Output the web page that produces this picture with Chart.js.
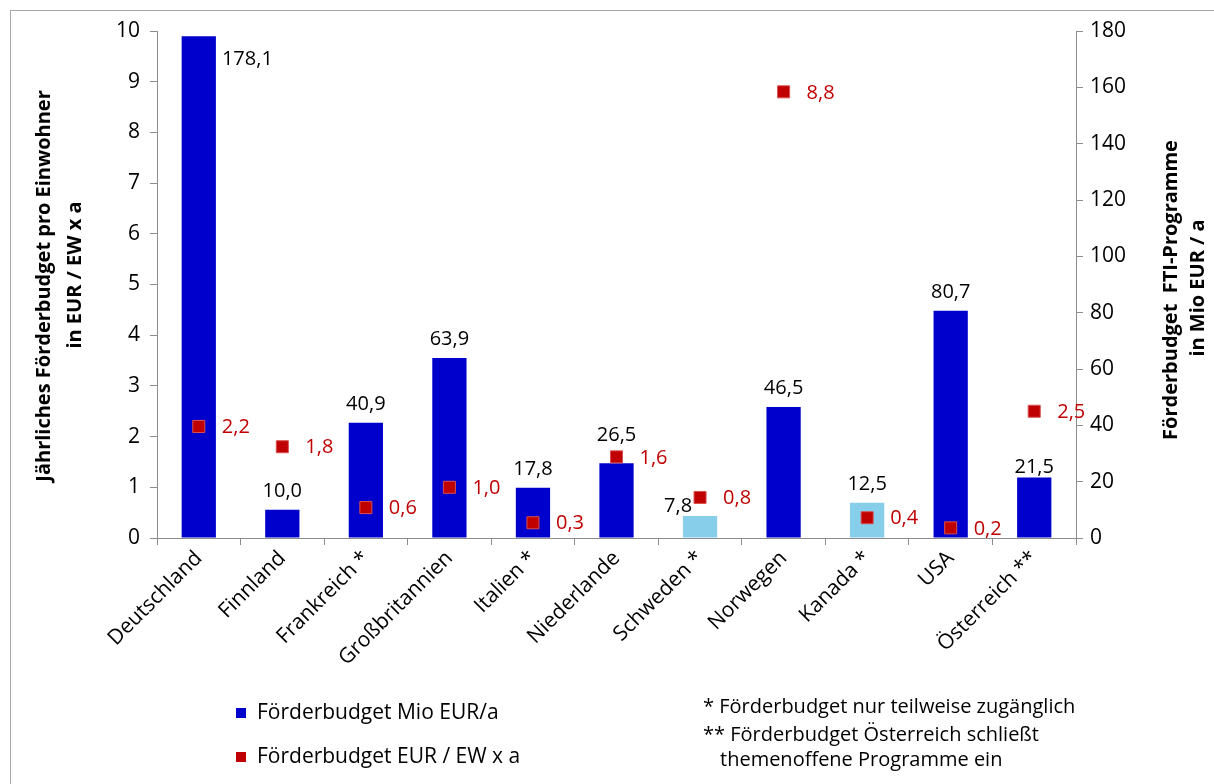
<!DOCTYPE html>
<html>
<head>
<meta charset="utf-8">
<script src="https://cdn.jsdelivr.net/npm/chart.js@4.4.1/dist/chart.umd.min.js"></script>
<style>
  body { margin: 0; background: #fff; font-family: "Open Sans", sans-serif; }
  #wrap { position: relative; width: 1214px; height: 784px; overflow: hidden; }
  #frame { position: absolute; left: 10px; top: 10px; width: 1400px; height: 1000px; border: 1px solid #a6a6a6; box-sizing: border-box; }
  #chart { position: absolute; left: 0; top: 0; }
  .key { position: absolute; width: 10px; height: 10px; }
  .txt { position: absolute; font-size: 21px; color: #000; line-height: 1; white-space: nowrap; }
  .note { position: absolute; font-size: 20px; color: #000; line-height: 1; white-space: nowrap; }
</style>
</head>
<body>
<div id="wrap">
  <div id="frame"></div>
  <canvas id="chart" width="1214" height="784"></canvas>
  <div class="key" style="left:236px;top:708px;background:#0000cc"></div>
  <div class="txt" style="left:257px;top:701px">Förderbudget Mio EUR/a</div>
  <div class="key" style="left:236px;top:752px;background:#c00000"></div>
  <div class="txt" style="left:257px;top:745px">Förderbudget EUR / EW x a</div>
  <div class="note" style="left:703px;top:696px">* Förderbudget nur teilweise zugänglich</div>
  <div class="note" style="left:703px;top:724px">** Förderbudget Österreich schließt</div>
  <div class="note" style="left:720px;top:749px">themenoffene Programme ein</div>
</div>
<script>
const countries = ["Deutschland", "Finnland", "Frankreich *", "Großbritannien", "Italien *", "Niederlande", "Schweden *", "Norwegen", "Kanada *", "USA", "Österreich **"];
const budgetMio = [178.1, 10.0, 40.9, 63.9, 17.8, 26.5, 7.8, 46.5, 12.5, 80.7, 21.5];
const budgetPerCapita = [2.2, 1.8, 0.6, 1.0, 0.3, 1.6, 0.8, 8.8, 0.4, 0.2, 2.5];
const barColors = ["#0000cc", "#0000cc", "#0000cc", "#0000cc", "#0000cc", "#0000cc", "#87ceeb", "#0000cc", "#87ceeb", "#0000cc", "#0000cc"];
const leftTicks = [0, 1, 2, 3, 4, 5, 6, 7, 8, 9, 10];
const rightTicks = [0, 20, 40, 60, 80, 100, 120, 140, 160, 180];

const FONT = "'Open Sans', sans-serif";
const AXIS = "#8c8c8c";

// bar labels that were moved by hand in the original (dx, dy in px)
const barLabelNudge = { 5: [0, -9], 6: [-22, 9], 10: [0, 9] };

function fmt(v) {
  return v.toFixed(1).replace(".", ",");
}

// value labels next to bars and points
const valueLabels = {
  id: "valueLabels",
  afterDatasetsDraw(chart) {
    const ctx = chart.ctx;
    const area = chart.chartArea;
    ctx.save();
    ctx.font = "20px " + FONT;

    const bars = chart.getDatasetMeta(0).data;
    ctx.fillStyle = "#000";
    bars.forEach((bar, i) => {
      const text = fmt(budgetMio[i]);
      if (bar.y - 30 < area.top) {
        // no room above the bar, put it on the right
        ctx.textAlign = "left";
        ctx.textBaseline = "middle";
        ctx.fillText(text, bar.x + bar.width / 2 + 6, bar.y + 23);
      } else {
        const [dx, dy] = barLabelNudge[i] || [0, 0];
        ctx.textAlign = "center";
        ctx.textBaseline = "alphabetic";
        ctx.fillText(text, bar.x + dx, bar.y - 13 + dy);
      }
    });

    const pts = chart.getDatasetMeta(1).data;
    ctx.fillStyle = "#c00000";
    ctx.textAlign = "left";
    ctx.textBaseline = "middle";
    pts.forEach((p, i) => {
      ctx.fillText(fmt(budgetPerCapita[i]), p.x + 23, p.y + 1);
    });
    ctx.restore();
  },
};

// axis titles (both read bottom to top)
const axisTitles = {
  id: "axisTitles",
  afterDraw(chart) {
    const ctx = chart.ctx;
    ctx.save();
    ctx.fillStyle = "#000";
    ctx.font = "bold 20px " + FONT;
    ctx.textAlign = "center";
    ctx.textBaseline = "middle";
    const lines = [
      ["Jährliches Förderbudget pro Einwohner", 44, 286],
      ["in EUR / EW x a", 75, 275],
      ["Förderbudget  FTI-Programme", 1171, 290],
      ["in Mio EUR / a", 1198, 288],
    ];
    lines.forEach(([t, x, y]) => {
      ctx.save();
      ctx.translate(x, y);
      ctx.rotate(-Math.PI / 2);
      ctx.fillText(t, 0, 0);
      ctx.restore();
    });
    ctx.restore();
  },
};

new Chart(document.getElementById("chart"), {
  data: {
    labels: countries,
    datasets: [
      {
        type: "bar",
        label: "Förderbudget Mio EUR/a",
        data: budgetMio,
        backgroundColor: barColors,
        yAxisID: "yR",
        barPercentage: 0.41,
        categoryPercentage: 1,
        order: 2,
      },
      {
        type: "line",
        label: "Förderbudget EUR / EW x a",
        data: budgetPerCapita,
        yAxisID: "yL",
        showLine: false,
        pointStyle: "rect",
        pointRadius: 8.5,
        backgroundColor: "#c00000",
        borderColor: "#d85050",
        borderWidth: 1,
        order: 1,
      },
    ],
  },
  options: {
    responsive: false,
    animation: false,
    layout: { padding: { top: 31, left: 0, right: 0, bottom: 0 } },
    plugins: {
      legend: { display: false },
      tooltip: { enabled: false },
    },
    scales: {
      x: {
        grid: { offset: true, drawOnChartArea: false, tickLength: 7, color: AXIS },
        border: { color: AXIS },
        ticks: {
          color: "#000",
          font: { family: FONT, size: 21 },
          minRotation: 45,
          maxRotation: 45,
          padding: 1,
        },
        afterFit: (s) => { s.height = 246; },
      },
      yL: {
        position: "left",
        min: 0,
        max: 10,
        afterBuildTicks: (s) => { s.ticks = leftTicks.map((v) => ({ value: v })); },
        grid: { drawOnChartArea: false, tickLength: 7, color: AXIS },
        border: { color: AXIS },
        ticks: { color: "#000", font: { family: FONT, size: 21 }, padding: 10 },
        afterFit: (s) => { s.width = 157; },
      },
      yR: {
        position: "right",
        min: 0,
        max: 180,
        afterBuildTicks: (s) => { s.ticks = rightTicks.map((v) => ({ value: v })); },
        grid: { drawOnChartArea: false, tickLength: 7, color: AXIS },
        border: { color: AXIS },
        ticks: { color: "#000", font: { family: FONT, size: 21 }, padding: 7 },
        afterFit: (s) => { s.width = 138; },
      },
    },
  },
  plugins: [valueLabels, axisTitles],
});
</script>
</body>
</html>
